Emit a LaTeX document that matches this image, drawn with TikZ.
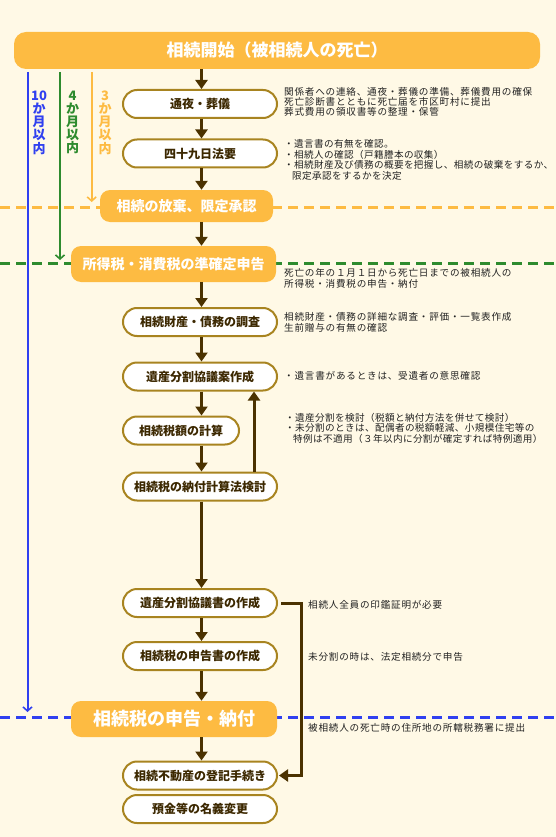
\documentclass[tikz,border=0pt]{standalone}
\usepackage{fontspec}
\setmainfont{Noto Sans CJK JP}
\usetikzlibrary{arrows.meta}
\definecolor{bg}{HTML}{FFF9E6}
\definecolor{orng}{HTML}{FDBB42}
\definecolor{gold}{HTML}{A88420}
\definecolor{brn}{HTML}{4B3200}
\definecolor{blu}{HTML}{3040F0}
\definecolor{grn}{HTML}{2E8B2E}
\definecolor{dtext}{HTML}{3C2800}
\definecolor{ntext}{HTML}{222222}
\begin{document}
\begin{tikzpicture}[x=1pt,y=-1pt,
  wbox/.style={draw=gold, line width=2pt, fill=white, rounded corners=14pt,
    minimum width=154pt, minimum height=28pt, inner sep=0pt,
    font=\fontsize{12}{12}\selectfont\bfseries, text=dtext},
  obox/.style={fill=orng, rounded corners=10pt, inner sep=0pt, text=white,
    font=\fontsize{14}{14}\selectfont\bfseries},
  arr/.style={draw=brn, line width=3pt, -{Triangle[width=12pt,length=9pt]}},
  note/.style={anchor=base west, inner sep=0pt, text=ntext,
    font=\fontsize{9.6}{10.8}\selectfont\addfontfeatures{LetterSpace=8}},
  notet/.style={note, font=\fontsize{9.6}{10.8}\selectfont\addfontfeatures{LetterSpace=4}},
  vlab/.style={anchor=north, align=center, inner sep=0pt,
    font=\fontsize{13}{13.2}\selectfont\bfseries},
  vline/.style={line width=2pt, -{Straight Barb[length=4pt,width=9pt,line width=1.6pt]}},
  hdash/.style={line width=3pt, dash pattern=on 10pt off 6pt}
]
\useasboundingbox (0,0) rectangle (556,837);
\fill[bg] (0,0) rectangle (556,837);

% dashed deadlines
\draw[hdash, orng] (0,207) -- (556,207);
\draw[hdash, grn] (0,263) -- (556,263);
\draw[hdash, blu] (0,717) -- (556,717);

% deadline lines
\coordinate (b0) at (27.5,72); \coordinate (b1) at (27.5,712);
\coordinate (g0) at (60,72);   \coordinate (g1) at (60,260);
\coordinate (y0) at (91.7,72); \coordinate (y1) at (91.7,202);
\draw[vline, blu] (b0) -- (b1);
\draw[vline, grn] (g0) -- (g1);
\draw[vline, orng] (y0) -- (y1);
\node[vlab, text=blu] (lb) at (39,90.5) {10\\か\\月\\以\\内};
\node[vlab, text=grn] (lg) at (72.5,90.5) {4\\か\\月\\以\\内};
\node[vlab, text=orng] (ly) at (105,90.5) {3\\か\\月\\以\\内};

% boxes
\node[obox, rounded corners=12pt, minimum width=526pt, minimum height=37pt,
  font=\fontsize{17}{17}\selectfont\bfseries] (start) at (277,50.5) {相続開始（被相続人の死亡）};
\node[wbox] (n1) at (200,104) {通夜・葬儀};
\node[wbox] (n2) at (200,153.5) {四十九日法要};
\node[obox, minimum width=173pt, minimum height=32pt] (o1) at (186.5,206) {相続の放棄、限定承認};
\node[obox, minimum width=205pt, minimum height=36pt] (o2) at (173.5,264) {所得税・消費税の準確定申告};
\node[wbox] (n3) at (200,322) {相続財産・債務の調査};
\node[wbox] (n4) at (200,376.5) {遺産分割協議案作成};
\node[wbox, minimum width=116pt] (n5) at (181,430.5) {相続税額の計算};
\node[wbox] (n6) at (200,486.5) {相続税の納付計算法検討};
\node[wbox] (n7) at (200,603) {遺産分割協議書の作成};
\node[wbox] (n8) at (200,656) {相続税の申告書の作成};
\node[obox, minimum width=206pt, minimum height=36pt,
  font=\fontsize{18}{18}\selectfont\bfseries] (o3) at (174,719) {相続税の申告・納付};
\node[wbox] (n9) at (200,775.5) {相続不動産の登記手続き};
\node[wbox] (n10) at (200,809) {預金等の名義変更};

% main flow arrows
\coordinate (col) at (201.5,0);
\coordinate (upx) at (254,0);
\draw[arr] (col |- start.south) -- (col |- n1.north);
\draw[arr] (col |- n1.south) -- (col |- n2.north);
\draw[arr] (col |- n2.south) -- (col |- o1.north);
\draw[arr] (col |- o1.south) -- (col |- o2.north);
\draw[arr] (col |- o2.south) -- (col |- n3.north);
\draw[arr] (col |- n3.south) -- (col |- n4.north);
\draw[arr] (col |- n4.south) -- (col |- n5.north);
\draw[arr] (col |- n5.south) -- (col |- n6.north);
\draw[arr] (upx |- n6.north) -- (upx |- n4.south);
\draw[arr] (col |- n6.south) -- (col |- n7.north);
\draw[arr] (col |- n7.south) -- (col |- n8.north);
\draw[arr] (col |- n8.south) -- (col |- o3.north);
\draw[arr] (col |- o3.south) -- (col |- n9.north);
\draw[arr] ([xshift=3pt]n7.east) -- ++(20,0) |- ([xshift=1pt]n9.east);

% notes
\node[note] (t1a) at (284,96) {関係者への連絡、通夜・葬儀の準備、葬儀費用の確保};
\node[note] (t1b) at (284,106) {死亡診断書とともに死亡届を市区町村に提出};
\node[note] (t1c) at (284,115.6) {葬式費用の領収書等の整理・保管};
\node[notet] (t2a) at (284,148) {・遺言書の有無を確認。};
\node[notet] (t2b) at (284,158.5) {・相続人の確認（戸籍謄本の収集）};
\node[notet] (t2c) at (284,169) {・相続財産及び債務の概要を把握し、相続の破棄をするか、};
\node[notet] (t2d) at (292,179) {限定承認をするかを決定};
\node[note] (t3a) at (284,276.3) {死亡の年の１月１日から死亡日までの被相続人の};
\node[note] (t3b) at (284,287) {所得税・消費税の申告・納付};
\node[note] (t4a) at (284,320.6) {相続財産・債務の詳細な調査・評価・一覧表作成};
\node[note] (t4b) at (284,331) {生前贈与の有無の確認};
\node[note] (t5) at (284,379.6) {・遺言書があるときは、受遺者の意思確認};
\node[notet] (t6a) at (285,421) {・遺産分割を検討（税額と納付方法を併せて検討）};
\node[notet] (t6b) at (285,431.6) {・未分割のときは、配偶者の税額軽減、小規模住宅等の};
\node[notet] (t6c) at (293,442) {特例は不適用（３年以内に分割が確定すれば特例適用）};
\node[note] (t7) at (308,608.6) {相続人全員の印鑑証明が必要};
\node[note] (t8) at (308,660.6) {未分割の時は、法定相続分で申告};
\node[note] (t9) at (308,731.6) {被相続人の死亡時の住所地の所轄税務署に提出};
\end{tikzpicture}
\end{document}
